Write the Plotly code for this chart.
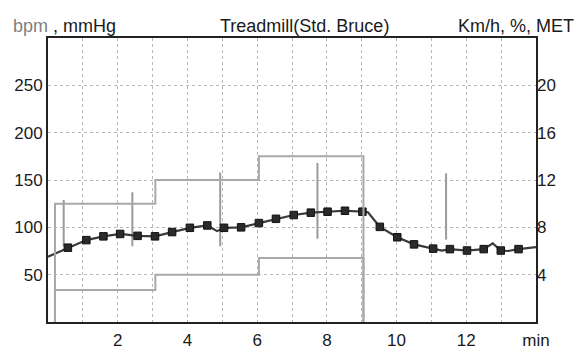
import plotly.graph_objects as go

# ---- data ----
hr_line_time = [0.0, 0.57, 1.1, 1.59, 2.07, 2.57, 3.07, 3.56, 4.07, 4.57, 4.85, 5.05, 5.54,
                6.05, 6.54, 7.05, 7.54, 8.02, 8.52, 9.02, 9.18, 9.52, 10.02, 10.5, 11.05,
                11.3, 11.53, 12.02, 12.5, 12.76, 12.99, 13.2, 13.5, 14.0]
hr_line_bpm = [69, 78.5, 86.5, 90.5, 93, 91, 90.5, 95, 99.5, 102, 96, 99.5, 100,
               104.5, 109, 113, 115.5, 116.5, 117.5, 116.5, 116, 100.5, 89.5, 82, 77.5,
               75.5, 77, 75.5, 77, 83, 75.5, 75, 77, 79]

hr_mark_time = [0.57, 1.1, 1.59, 2.07, 2.57, 3.07, 3.56, 4.07, 4.57, 5.05, 5.54, 6.05, 6.54,
                7.05, 7.54, 8.02, 8.52, 9.02, 9.52, 10.02, 10.5, 11.05, 11.53, 12.02, 12.5,
                12.99, 13.5]
hr_mark_bpm = [78.5, 86.5, 90.5, 93, 91, 90.5, 95, 99.5, 102, 99.5, 100, 104.5, 109,
               113, 115.5, 116.5, 117.5, 116.5, 100.5, 89.5, 82, 77.5, 77, 75.5, 77,
               75.5, 77]

stage_time = [0.2, 0.2, 3.08, 6.05, 9.05]
grade_pct = [0, 10, 12, 14, 0]
speed_kmh = [0, 2.7, 4.0, 5.4, 0]

bp_time = [0.45, 2.42, 4.94, 7.73, 11.42]
bp_sys = [129, 137, 158, 168, 157]
bp_dia = [80, 80, 80, 88, 87]

x_tickvals = [2, 4, 6, 8, 10, 12, 14]
x_ticktext = ["2", "4", "6", "8", "10", "12", "min"]
y_tickvals = [50, 100, 150, 200, 250]
y2_tickvals = [4, 8, 12, 16, 20]

# ---- figure ----
FONT = "Liberation Sans, Arial, sans-serif"
GRID = "#b8b8b8"
STEP = "#a8a8a8"

fig = go.Figure()

fig.add_trace(go.Scatter(x=stage_time, y=grade_pct, yaxis="y2", mode="lines",
                         line=dict(color=STEP, width=2, shape="hv"),
                         hoverinfo="skip", showlegend=False))
fig.add_trace(go.Scatter(x=stage_time, y=speed_kmh, yaxis="y2", mode="lines",
                         line=dict(color=STEP, width=2, shape="hv"),
                         hoverinfo="skip", showlegend=False))

bp_x, bp_y = [], []
for t, s, d in zip(bp_time, bp_sys, bp_dia):
    bp_x += [t, t, None]
    bp_y += [d, s, None]
fig.add_trace(go.Scatter(x=bp_x, y=bp_y, mode="lines",
                         line=dict(color="#9a9a9a", width=2),
                         hoverinfo="skip", showlegend=False))

fig.add_trace(go.Scatter(x=hr_line_time, y=hr_line_bpm, mode="lines",
                         line=dict(color="#3a3a3a", width=2.2),
                         showlegend=False))
fig.add_trace(go.Scatter(x=hr_mark_time, y=hr_mark_bpm, mode="markers",
                         marker=dict(symbol="square", size=7.5, color="#2a2a2a",
                                     line=dict(color="#111", width=1)),
                         showlegend=False))

fig.update_layout(
    width=579, height=351,
    margin=dict(l=48, r=43, t=38, b=29),
    paper_bgcolor="white", plot_bgcolor="white",
    font=dict(family=FONT, size=17, color="#1a1a1a"),
    xaxis=dict(range=[0, 14], tickvals=x_tickvals, ticktext=x_ticktext,
               showgrid=True, gridcolor=GRID, griddash="dot", gridwidth=1,
               minor=dict(dtick=1, tick0=0, showgrid=True, gridcolor=GRID,
                          griddash="dot", gridwidth=1),
               showline=True, linecolor="#222", linewidth=2, mirror=True,
               ticks="", ticklabelstandoff=2, automargin=False,
               zeroline=False, fixedrange=True),
    yaxis=dict(range=[0, 300], tickvals=y_tickvals,
               showgrid=True, gridcolor=GRID, griddash="dot", gridwidth=1,
               showline=True, linecolor="#222", linewidth=2, mirror=True,
               ticks="", automargin=False, zeroline=False, fixedrange=True),
    yaxis2=dict(range=[0, 24], tickvals=y2_tickvals, overlaying="y", side="right",
                showgrid=False, showline=False, ticks="", automargin=False,
                zeroline=False, fixedrange=True),
    annotations=[
        dict(text='<span style="color:#808080">bpm</span> , mmHg', xref="paper", yref="paper",
             x=-0.0758, y=1.042, xanchor="left", yanchor="middle", showarrow=False,
             font=dict(size=18, color="#1a1a1a")),
        dict(text="Treadmill(Std. Bruce)", xref="paper", yref="paper",
             x=0.526, y=1.042, xanchor="center", yanchor="middle", showarrow=False,
             font=dict(size=18, color="#1a1a1a")),
        dict(text="Km/h, %, MET", xref="paper", yref="paper",
             x=1.082, y=1.042, xanchor="right", yanchor="middle", showarrow=False,
             font=dict(size=18, color="#1a1a1a")),
    ],
)

fig.write_html("out.html")
